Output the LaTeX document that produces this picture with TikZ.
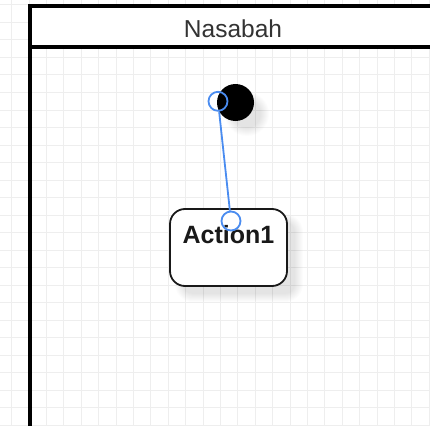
\documentclass[tikz,border=0pt]{standalone}
\usepackage{fontspec}
\setmainfont{Liberation Sans}
\definecolor{selblue}{HTML}{4A8CF0}
\definecolor{gridgray}{HTML}{EEEEEE}
\definecolor{headtext}{HTML}{333333}
\begin{document}
\begin{tikzpicture}[x=1pt,y=-1pt,
  gridline/.style={draw=gridgray, line width=1pt},
  poolline/.style={draw=black, line width=4pt, line join=miter},
  startdot/.style={circle, fill=black, minimum size=37pt, inner sep=0pt},
  actionbox/.style={draw=black!90, line width=1.8pt, rounded corners=15pt,
    fill=white, minimum width=117pt, minimum height=77pt, inner sep=0pt},
  actiontext/.style={font=\bfseries\fontsize{25}{25}\selectfont, text=black!90,
    inner sep=0pt, anchor=base},
  headlabel/.style={font=\fontsize{24.5}{24.5}\selectfont, text=headtext,
    inner sep=0pt, anchor=base},
  handle/.style={circle, draw=selblue, line width=1.8pt, inner sep=0pt,
    minimum size=19pt},
  link/.style={draw=selblue, line width=1.8pt},
  softshadow/.style={fill=black, opacity=0.011}]
\useasboundingbox (0,0) rectangle (430,425);
\begin{scope}
  \clip (0,0) rectangle (430,425);
  % background grid
  \foreach \k in {-2,...,23} \draw[gridline] ({29+17.4*\k},0) -- ({29+17.4*\k},425);
  \foreach \k in {0,...,24} \draw[gridline] (0,{5+17.5*\k}) -- (430,{5+17.5*\k});
  % blurred drop shadows
  \foreach \d in {0,...,8} {
    \fill[softshadow] (247,114) circle ({14+\d});
    \fill[softshadow, rounded corners={10+\d}]
      ({183-\d},{222-\d}) rectangle ({295+\d},{294+\d});
  }
  % swimlane pool with header
  \fill[white] (29.5,6.5) rectangle (440,47);
  \draw[poolline] (440,6.5) -- (29.5,6.5) -- (29.5,430);
  \draw[poolline] (29.5,47) -- (440,47);
\end{scope}
\node[headlabel] (pooltitle) at (233,37.3) {Nasabah};
\node[startdot] (start) at (235.5,102.5) {};
\node[actionbox] (act) at (228.5,247.5) {};
\node[actiontext] (acttext) at (228.5,243.3) {Action1};
\node[handle] (h1) at (218,101.3) {};
\node[handle] (h2) at (231,221) {};
\draw[link] (h1) -- (h2);
\end{tikzpicture}
\end{document}
